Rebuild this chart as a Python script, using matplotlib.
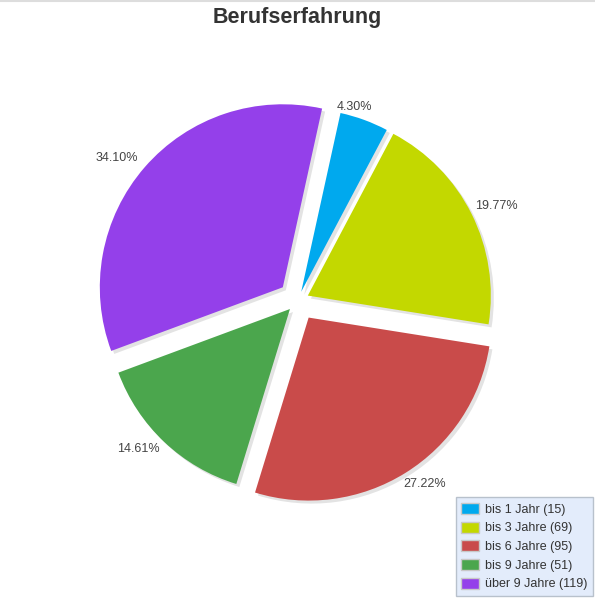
import numpy as np
import matplotlib
matplotlib.use("Agg")
import matplotlib.pyplot as plt
from matplotlib.patches import Patch
from matplotlib.lines import Line2D

# datos del gráfico
categorias = ["bis 1 Jahr", "bis 3 Jahre", "bis 6 Jahre", "bis 9 Jahre", "über 9 Jahre"]
valores    = [15, 69, 95, 51, 119]
colores    = ["#00a9ee", "#c3d800", "#c94b4a", "#4ba64d", "#9440ea"]
titulo     = "Berufserfahrung"

plt.rcParams['font.family'] = ['Liberation Sans', 'DejaVu Sans']

W, H   = 595, 598
radio  = 183.0           # radio del pie en px
cx, cy = 298.0, 300.5    # centro en px (desde arriba)

# separación de cada sector (fracción del radio) y ubicación de los textos
explode   = [0.051, 0.060, 0.110, 0.064, 0.110]
lbl_dist  = [1.05, 1.14, 1.11, 1.125, 1.15]
lbl_shift = [-4, 1, -3, 4, -3]   # grados, sentido horario

fig = plt.figure(figsize=(W / 100, H / 100), dpi=100)
ax = fig.add_axes([0, 0, 1, 1])

sombra = 3.0 / radio

# sombra: el mismo pie en gris, desplazado a la derecha y abajo
ax.pie(valores, explode=explode, startangle=77.6, counterclock=False,
       colors=["#e3e3e3"] * len(valores), center=(sombra, -sombra),
       wedgeprops=dict(linewidth=0))

# pie principal
wedges, textos, pcts = ax.pie(
    valores, explode=explode, startangle=77.6, counterclock=False,
    colors=colores, autopct='%.2f%%', pctdistance=1.1,
    wedgeprops=dict(linewidth=0),
    textprops=dict(fontsize=9, color='#444444'))

# reubicación de los porcentajes respecto de cada sector
for w, t, d, s in zip(wedges, pcts, lbl_dist, lbl_shift):
    ang = np.deg2rad(0.5 * (w.theta1 + w.theta2) - s)
    x0, y0 = w.center
    t.set_position((x0 + d * np.cos(ang), y0 + d * np.sin(ang)))

ax.set_xlim(-cx / radio, (W - cx) / radio)
ax.set_ylim(-(H - cy) / radio, cy / radio)
ax.set_aspect('equal', adjustable='box')
ax.axis('off')

# título
fig.text(0.5, 1 - 17 / H, titulo, ha='center', va='center',
         fontsize=15.5, fontweight='bold', color='#333333')

# línea gris superior
fig.add_artist(Line2D([0, 1], [1 - 0.5 / H, 1 - 0.5 / H], color='#dddddd', lw=1.5))

# leyenda
handles = [Patch(facecolor=c, edgecolor='#c8c8c8', linewidth=1) for c in colores]
labels  = [f"{c} ({v})" for c, v in zip(categorias, valores)]
leg = fig.legend(handles, labels, loc='lower right',
                 bbox_to_anchor=(593 / W, 2 / H), fontsize=9,
                 frameon=True, fancybox=False, labelspacing=0.46,
                 handlelength=1.4, handleheight=1.0, handletextpad=0.5,
                 borderpad=0.45, borderaxespad=0)
leg.get_frame().set_facecolor('#dce8fb')
leg.get_frame().set_edgecolor('#aab4c0')
leg.get_frame().set_linewidth(1)
for t in leg.get_texts():
    t.set_color('#333333')

fig.savefig("out.png", dpi=100)
